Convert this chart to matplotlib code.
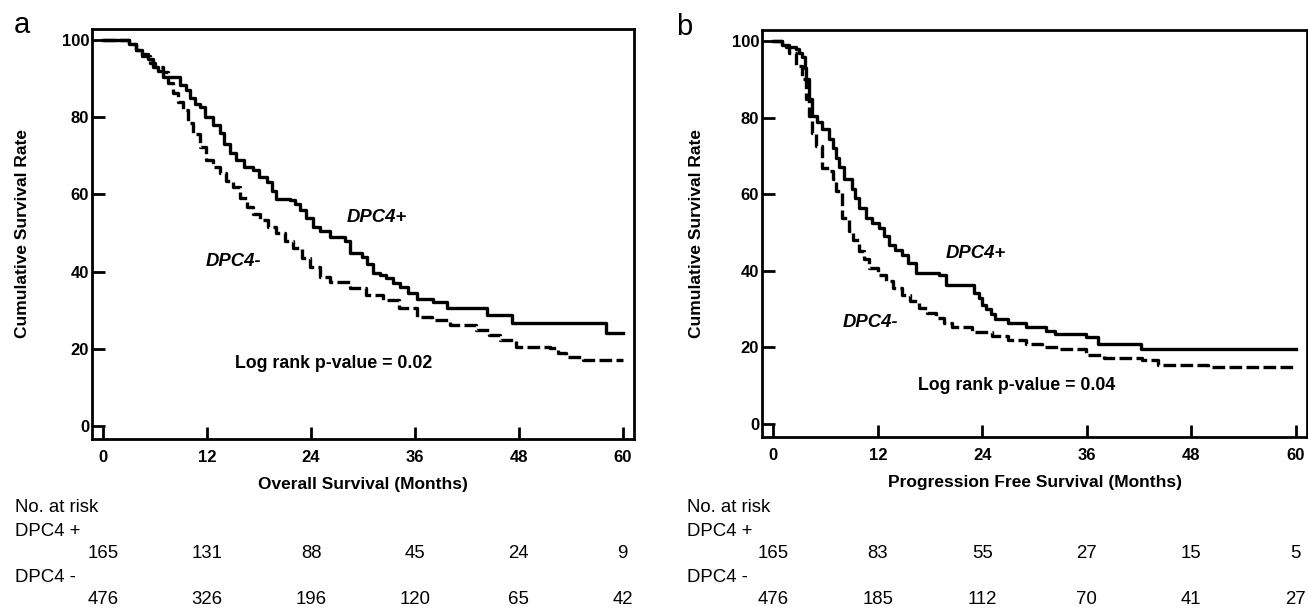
import numpy as np
import matplotlib
matplotlib.use("Agg")
import matplotlib.pyplot as plt
from matplotlib.transforms import blended_transform_factory

plt.rcParams['font.family'] = ['Liberation Sans', 'DejaVu Sans']

# overall survival, DPC4 positive / negative
os_pos_t = [0, 3.0, 3.8, 4.5, 5.2, 5.8, 6.3, 6.9, 8.9, 9.5, 10.0, 10.6, 11.2, 11.8, 12.7, 13.5,
            14.0, 14.6, 15.3, 16.2, 17.3, 18.0, 18.9, 19.5, 20.0, 21.6, 22.2, 22.7, 23.4, 24.2,
            25.0, 26.2, 27.9, 28.5, 29.9, 30.5, 31.1, 32.0, 32.7, 33.5, 34.3, 35.2, 36.2, 38.1,
            39.7, 44.3, 47.2, 58.1, 60]
os_pos_s = [100, 99, 97.5, 96.5, 95, 93, 92, 90.4, 88.5, 87, 85, 83.5, 82.6, 80, 78, 76,
            73, 70.7, 69, 67, 66.3, 64.5, 63.3, 61, 58.8, 58.5, 57.5, 56, 54, 51.6,
            50.5, 49, 48, 44.8, 43.8, 42, 39.6, 39, 38.3, 37, 36, 34.5, 33, 32.2,
            30.5, 28.8, 26.6, 24.2, 24.2]
os_neg_t = [0, 3.0, 3.8, 4.5, 5.4, 6.0, 6.9, 7.5, 8.1, 8.6, 9.2, 9.8, 10.4, 11.2, 11.9, 12.7,
            13.5, 14.2, 15.0, 15.8, 16.6, 17.3, 18.1, 19.0, 20.0, 21.0, 21.9, 22.9, 23.9, 25.0,
            26.2, 28.5, 30.4, 32.3, 34.2, 36.2, 38.0, 40.0, 43.1, 44.5, 45.8, 47.7, 51.6, 52.5,
            53.5, 55.4, 60]
os_neg_s = [100, 99, 97.5, 96, 94, 93, 91.8, 89, 86.2, 84, 81.8, 78.5, 75.8, 72.4, 69, 67,
            65.5, 63.5, 62, 59, 56.8, 55, 53.4, 51.5, 50, 48, 46, 43.5, 41.3, 38.7,
            37.4, 35.7, 34.0, 32.6, 30.5, 28.3, 27.5, 26.2, 24.9, 23.5, 22.3, 20.5, 20.2, 19,
            17.9, 17.1, 17.1]

# progression free survival
pfs_pos_t = [0, 1.0, 1.5, 2.6, 3.0, 3.3, 3.6, 3.8, 4.1, 4.5, 5.0, 5.6, 6.4, 6.8, 7.2, 7.6,
             8.1, 9.0, 9.4, 9.8, 10.6, 11.3, 12.1, 12.7, 13.3, 14.0, 14.8, 15.5, 16.4, 19.0,
             19.8, 23.0, 23.6, 24.0, 24.4, 25.0, 25.5, 27.0, 29.0, 31.3, 32.4, 35.9, 37.3, 42.2, 60]
pfs_pos_s = [100, 99, 98.4, 98, 97, 95.8, 93, 90, 85, 80.5, 79, 77, 74.5, 72, 69.4, 67,
             64, 61.5, 59, 56.4, 53.8, 52.5, 51.2, 49, 46.8, 45.5, 44.2, 42, 39.5, 39,
             36.2, 34.3, 33, 31.2, 30, 28.6, 27.3, 26.5, 25.2, 24.4, 23.4, 22.6, 20.8, 19.5, 19.5]
pfs_neg_t = [0, 1.0, 1.8, 2.6, 3.3, 3.8, 4.1, 4.5, 4.9, 5.6, 6.4, 6.8, 7.2, 7.9, 8.7, 9.2,
             9.8, 10.4, 11.0, 12.0, 12.9, 13.8, 14.8, 15.7, 16.7, 17.7, 18.7, 19.6, 20.5, 22.8,
             25.1, 27.0, 29.0, 30.9, 32.8, 35.9, 38.0, 42.3, 44.2, 49.9, 60]
pfs_neg_s = [100, 99, 97, 93.5, 90, 85, 80.5, 76, 72.7, 66.8, 66, 64, 60.8, 53.8, 50.4, 48,
             45.2, 43, 40.8, 39, 37.4, 35.5, 33.8, 32, 30.4, 29, 27.8, 26.5, 25.2, 23.9,
             23.1, 22, 20.8, 20.2, 19.5, 17.9, 17.3, 16.6, 15.3, 14.8, 14.5]

xticks = [0, 12, 24, 36, 48, 60]
yticks = [0, 20, 40, 60, 80, 100]

os_risk_pos = [165, 131, 88, 45, 24, 9]
os_risk_neg = [476, 326, 196, 120, 65, 42]
pfs_risk_pos = [165, 83, 55, 27, 15, 5]
pfs_risk_neg = [476, 185, 112, 70, 41, 27]

W, H = 1308, 608
fig = plt.figure(figsize=(W / 100, H / 100), dpi=100)

def px_axes(l, t, r, b):
    return fig.add_axes([l / W, 1 - b / H, (r - l) / W, (b - t) / H])

def panel(ax, box, pos_t, pos_s, neg_t, neg_s, xlabel, pv, plus_xy, minus_xy, pv_xy, ylab_x, xlab_y):
    l, t, r, b = box
    ax.step(pos_t, pos_s, where='post', color='black', lw=2.4)
    ax.step(neg_t, neg_s, where='post', color='black', lw=2.4, ls=(0, (3.8, 1.3)))
    ax.set_xlim(-1.3, 61.3)
    ax.set_ylim(-3.4, 102.9)
    ax.set_xticks(xticks)
    ax.set_yticks(yticks)
    ax.tick_params(direction='in', length=9, width=2, labelsize=12)
    ax.tick_params(axis='x', pad=8)
    ax.tick_params(axis='y', pad=2)
    for lab in ax.get_xticklabels() + ax.get_yticklabels():
        lab.set_fontweight('bold')
    for sp in ax.spines.values():
        sp.set_linewidth(2)
    ax.set_ylabel('Cumulative Survival Rate', fontsize=12.5, fontweight='bold')
    ax.yaxis.set_label_coords((ylab_x - l) / (r - l), 0.5)
    ax.yaxis.label.set_va('center')
    ax.set_xlabel(xlabel, fontsize=12.5, fontweight='bold')
    ax.xaxis.set_label_coords(0.5, -(xlab_y - b) / (b - t))
    ax.xaxis.label.set_va('center')
    ax.text(*plus_xy, 'DPC4+', fontsize=13.3, fontweight='bold', style='italic', ha='center', va='center')
    ax.text(*minus_xy, 'DPC4-', fontsize=13.3, fontweight='bold', style='italic', ha='center', va='center')
    ax.text(*pv_xy, 'Log rank p-value = ' + pv, fontsize=12.8, fontweight='bold', ha='center', va='center')

box1 = (92, 29, 634, 439)
ax1 = px_axes(*box1)
panel(ax1, box1, os_pos_t, os_pos_s, os_neg_t, os_neg_s, 'Overall Survival (Months)', '0.02',
      (31.6, 54), (15.0, 42.5), (26.6, 16.3), 23, 484)
box2 = (762, 30, 1307, 437)
ax2 = px_axes(*box2)
panel(ax2, box2, pfs_pos_t, pfs_pos_s, pfs_neg_t, pfs_neg_s, 'Progression Free Survival (Months)', '0.04',
      (23.3, 44.6), (11.2, 26.5), (27.9, 10.1), 697, 482)

fig.text(22 / W, 1 - 33 / H, 'a', fontsize=21, va='baseline', ha='center')
fig.text(684 / W, 1 - 35 / H, 'b', fontsize=21, va='baseline', ha='center')

def risk_table(ax, x0, pos, neg):
    kw = dict(fontsize=13.4, va='center')
    fig.text(x0 / W, 1 - 508 / H, 'No. at risk', ha='left', **kw)
    fig.text(x0 / W, 1 - 531 / H, 'DPC4 +', ha='left', **kw)
    fig.text(x0 / W, 1 - 577 / H, 'DPC4 -', ha='left', **kw)
    tr = blended_transform_factory(ax.transData, fig.transFigure)
    for m, p, n in zip(xticks, pos, neg):
        ax.text(m, 1 - 553 / H, str(p), ha='center', transform=tr, clip_on=False, **kw)
        ax.text(m, 1 - 600 / H, str(n), ha='center', transform=tr, clip_on=False, **kw)

risk_table(ax1, 15, os_risk_pos, os_risk_neg)
risk_table(ax2, 687, pfs_risk_pos, pfs_risk_neg)

fig.savefig('out.png', dpi=100)
